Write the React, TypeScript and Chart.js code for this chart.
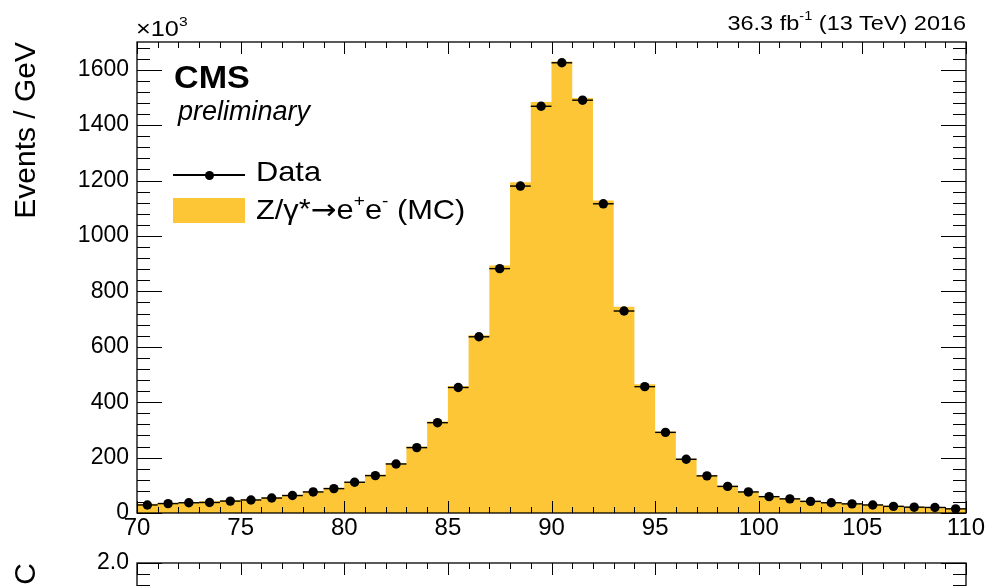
import React, { useEffect, useRef } from 'react';
import { Chart, registerables } from 'chart.js';

Chart.register(...registerables);

const FONT = '"Liberation Sans", Arial, Helvetica, sans-serif';
const YELLOW = '#FCC636';

// bin edges (GeV) and bin centres
const binEdges = [70, 71, 72, 73, 74, 75, 76, 77, 78, 79, 80, 81, 82, 83, 84, 85, 86, 87, 88, 89, 90,
  91, 92, 93, 94, 95, 96, 97, 98, 99, 100, 101, 102, 103, 104, 105, 106, 107, 108, 109, 110];
const binCenters = [70.5, 71.5, 72.5, 73.5, 74.5, 75.5, 76.5, 77.5, 78.5, 79.5, 80.5, 81.5, 82.5, 83.5,
  84.5, 85.5, 86.5, 87.5, 88.5, 89.5, 90.5, 91.5, 92.5, 93.5, 94.5, 95.5, 96.5, 97.5, 98.5, 99.5, 100.5,
  101.5, 102.5, 103.5, 104.5, 105.5, 106.5, 107.5, 108.5, 109.5];

// Events / GeV (x10^3)
const dataValues = [29, 34, 37, 38, 43, 47, 54, 63, 76, 88, 111, 135, 177, 236, 326, 453, 636, 882, 1180,
  1468, 1625, 1490, 1116, 729, 456, 291, 194, 134, 96, 76, 59, 51, 42, 37, 33, 29, 24, 21, 20, 15];
const mcValues = [33, 37, 40, 42, 46, 50, 57, 66, 78, 91, 113, 138, 180, 240, 330, 458, 642, 893, 1194,
  1483, 1630, 1498, 1128, 744, 465, 294, 196, 136, 98, 78, 61, 52, 44, 39, 34, 31, 26, 23, 21, 17];

const xMajorTicks = [70, 75, 80, 85, 90, 95, 100, 105, 110];
const yMajorTicks = [0, 200, 400, 600, 800, 1000, 1200, 1400, 1600];
const yMinorTicks = [0, 40, 80, 120, 160, 200, 240, 280, 320, 360, 400, 440, 480, 520, 560, 600, 640, 680,
  720, 760, 800, 840, 880, 920, 960, 1000, 1040, 1080, 1120, 1160, 1200, 1240, 1280, 1320, 1360, 1400,
  1440, 1480, 1520, 1560, 1600, 1640, 1680];
const ratioMajorTicks = [0.5, 1.0, 1.5, 2.0];
const ratioMinorTicks = [0.5, 0.6, 0.7, 0.8, 0.9, 1.0, 1.1, 1.2, 1.3, 1.4, 1.5, 1.6, 1.7, 1.8, 1.9, 2.0];

function framePlugin(xMinor: number[], xMajor: number[], yMinor: number[], yMajor: number[]) {
  return {
    id: 'rootFrame',
    afterDatasetsDraw(chart: any) {
      const { ctx, chartArea: a, scales } = chart;
      const x = scales.x;
      const y = scales.y;
      ctx.save();
      ctx.strokeStyle = '#000';
      ctx.lineWidth = 1;
      const seg = (x1: number, y1: number, x2: number, y2: number) => {
        ctx.beginPath();
        ctx.moveTo(x1, y1);
        ctx.lineTo(x2, y2);
        ctx.stroke();
      };
      xMinor.forEach((v) => {
        const len = xMajor.includes(v) ? 12 : 6;
        const px = Math.round(x.getPixelForValue(v)) + 0.5;
        seg(px, a.bottom, px, a.bottom - len);
        seg(px, a.top, px, a.top + len);
      });
      yMinor.forEach((v) => {
        const len = yMajor.some((m) => Math.abs(m - v) < 1e-9) ? 25 : 13;
        const py = Math.round(y.getPixelForValue(v)) + 0.5;
        seg(a.left, py, a.left + len, py);
        seg(a.right, py, a.right - len, py);
      });
      ctx.lineWidth = 1.3;
      ctx.strokeRect(a.left, a.top, a.right - a.left, a.bottom - a.top);
      ctx.restore();
    },
  };
}

const errorBarPlugin = {
  id: 'xErrors',
  afterDatasetsDraw(chart: any) {
    const { ctx, scales } = chart;
    const x = scales.x;
    const y = scales.y;
    ctx.save();
    ctx.strokeStyle = '#000';
    ctx.lineWidth = 1.4;
    binCenters.forEach((c, i) => {
      const py = y.getPixelForValue(dataValues[i]);
      ctx.beginPath();
      ctx.moveTo(x.getPixelForValue(c - 0.5), py);
      ctx.lineTo(x.getPixelForValue(c + 0.5), py);
      ctx.stroke();
    });
    ctx.restore();
  },
};

function MainChart() {
  const ref = useRef<HTMLCanvasElement>(null);
  useEffect(() => {
    if (!ref.current) return;
    const mcSteps = binEdges.map((e, i) => ({ x: e, y: mcValues[Math.min(Math.max(i - 1, 0), mcValues.length - 1)] }));
    const chart = new Chart(ref.current, {
      type: 'line',
      data: {
        datasets: [
          {
            type: 'scatter',
            label: 'Data',
            data: binCenters.map((c, i) => ({ x: c, y: dataValues[i] })),
            pointRadius: 4.7,
            pointBackgroundColor: '#000',
            pointBorderWidth: 0,
            showLine: false,
            order: 0,
          } as any,
          {
            type: 'line',
            label: 'Z/γ*→e+e- (MC)',
            data: mcSteps,
            stepped: 'after',
            fill: 'origin',
            backgroundColor: YELLOW,
            borderWidth: 0,
            pointRadius: 0,
            order: 1,
          } as any,
        ],
      },
      options: {
        animation: false,
        responsive: false,
        maintainAspectRatio: false,
        layout: { padding: { left: 0, top: 42, right: 24, bottom: 33 } },
        plugins: { legend: { display: false }, tooltip: { enabled: false } },
        scales: {
          x: {
            type: 'linear',
            min: 70,
            max: 110,
            afterBuildTicks: (s: any) => { s.ticks = xMajorTicks.map((v) => ({ value: v })); },
            afterFit: (s: any) => { s.height = 40; },
            ticks: { font: { size: 24, family: FONT }, color: '#000', padding: 1, maxRotation: 0, autoSkip: false,
              callback: (v: any) => String(v) },
            grid: { display: false, drawTicks: false },
            border: { display: false },
          },
          y: {
            type: 'linear',
            min: 0,
            max: 1700,
            afterBuildTicks: (s: any) => { s.ticks = yMajorTicks.map((v) => ({ value: v })); },
            afterFit: (s: any) => { s.width = 137; },
            ticks: { font: { size: 23, family: FONT }, color: '#000', padding: 8, autoSkip: false,
              callback: (v: any) => String(v) },
            grid: { display: false, drawTicks: false },
            border: { display: false },
            title: {
              display: true,
              text: 'Events / GeV',
              align: 'end',
              color: '#000',
              font: { size: 30, family: FONT },
              padding: { top: 9, bottom: 0 },
            },
          },
        },
      } as any,
      plugins: [errorBarPlugin, framePlugin(binEdges, xMajorTicks, yMinorTicks, yMajorTicks)],
    });
    return () => chart.destroy();
  }, []);
  return <canvas ref={ref} width={990} height={586} style={{ position: 'absolute', left: 0, top: 0, width: 990, height: 586 }} />;
}

function RatioChart() {
  const ref = useRef<HTMLCanvasElement>(null);
  useEffect(() => {
    if (!ref.current) return;
    const chart = new Chart(ref.current, {
      type: 'scatter',
      data: {
        datasets: [
          {
            label: 'Data/MC',
            data: binCenters.map((c, i) => ({ x: c, y: dataValues[i] / mcValues[i] })),
            pointRadius: 4.7,
            pointBackgroundColor: '#000',
            pointBorderWidth: 0,
          },
        ],
      },
      options: {
        animation: false,
        responsive: false,
        maintainAspectRatio: false,
        layout: { padding: { left: 0, top: 23, right: 24, bottom: 32 } },
        plugins: { legend: { display: false }, tooltip: { enabled: false } },
        scales: {
          x: {
            type: 'linear',
            min: 70,
            max: 110,
            afterBuildTicks: (s: any) => { s.ticks = xMajorTicks.map((v) => ({ value: v })); },
            afterFit: (s: any) => { s.height = 40; },
            ticks: { display: false },
            grid: { display: false, drawTicks: false },
            border: { display: false },
          },
          y: {
            type: 'linear',
            min: 0.5,
            max: 2.0,
            afterBuildTicks: (s: any) => { s.ticks = ratioMajorTicks.map((v) => ({ value: v })); },
            afterFit: (s: any) => { s.width = 137; },
            ticks: {
              font: { size: 23, family: FONT },
              color: '#000',
              padding: 8,
              callback: (v: any) => Number(v).toFixed(1),
            },
            grid: { display: false, drawTicks: false },
            border: { display: false },
            title: {
              display: true,
              text: 'Data/MC',
              align: 'end',
              color: '#000',
              font: { size: 30, family: FONT },
              padding: { top: 9, bottom: 0 },
            },
          },
        },
      } as any,
      plugins: [framePlugin(binEdges, xMajorTicks, ratioMinorTicks, ratioMajorTicks)],
    });
    return () => chart.destroy();
  }, []);
  return <canvas ref={ref} width={990} height={260} style={{ position: 'absolute', left: 0, top: 540, width: 990, height: 260 }} />;
}

const sup = (t: string) => (
  <span style={{ fontSize: '0.62em', position: 'relative', top: '-0.75em' }}>{t}</span>
);

const txt = (style: React.CSSProperties): React.CSSProperties => ({
  position: 'absolute',
  fontFamily: FONT,
  lineHeight: 1,
  whiteSpace: 'nowrap',
  color: '#000',
  transformOrigin: 'left center',
  ...style,
});

export default function App() {
  return (
    <div style={{ position: 'fixed', left: 0, top: 0, width: 990, height: 586, overflow: 'hidden', background: '#fff' }}>
      <MainChart />
      <RatioChart />
      <div style={txt({ left: 136, top: 18, fontSize: 22, transform: 'scaleX(1.15)' })}>×10{sup('3')}</div>
      <div style={txt({ right: 24, top: 12, fontSize: 21, transform: 'scaleX(1.12)', transformOrigin: 'right center' })}>
        36.3 fb{sup('-1')} (13 TeV) 2016
      </div>
      <div style={txt({ left: 174, top: 62, fontSize: 31, fontWeight: 'bold', transform: 'scaleX(1.1)' })}>CMS</div>
      <div style={txt({ left: 178, top: 98, fontSize: 27, fontStyle: 'italic' })}>preliminary</div>
      <div style={{ position: 'absolute', left: 173, top: 174, width: 72, height: 1.5, background: '#000' }} />
      <div style={{ position: 'absolute', left: 204.5, top: 170.5, width: 9, height: 9, borderRadius: '50%', background: '#000' }} />
      <div style={txt({ left: 256, top: 158, fontSize: 28, transform: 'scaleX(1.1)' })}>Data</div>
      <div style={{ position: 'absolute', left: 173, top: 198, width: 72, height: 25, background: YELLOW }} />
      <div style={txt({ left: 256, top: 196, fontSize: 28, transform: 'scaleX(1.1)' })}>
        Z/γ<span style={{ position: 'relative', top: '-0.05em' }}>*</span>
        <span style={{ fontFamily: '"DejaVu Sans", sans-serif' }}>→</span>e{sup('+')}e{sup('-')} (MC)
      </div>
    </div>
  );
}
